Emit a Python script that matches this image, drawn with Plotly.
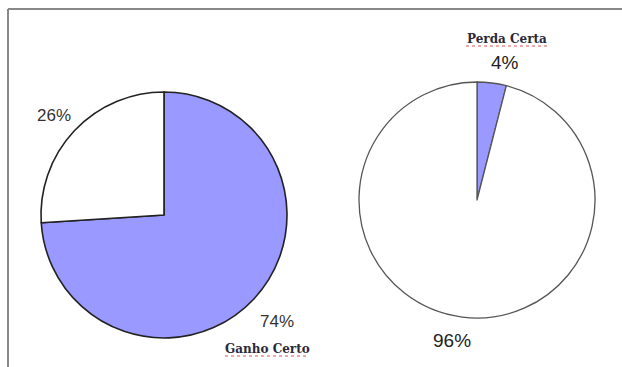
import plotly.graph_objects as go

W, H = 622, 367

left_labels = ["Ganho Certo", "Outro"]
left_values = [74, 26]
right_labels = ["Perda Certa", "Outro"]
right_values = [4, 96]
pie_colors = ["#9999FF", "#FFFFFF"]


def dom_x(cx, r):
    return [(cx - r) / W, (cx + r) / W]


def dom_y(cy, r):
    return [1 - (cy + r) / H, 1 - (cy - r) / H]


fig = go.Figure()
fig.add_trace(go.Pie(
    labels=left_labels, values=left_values, sort=False, direction="clockwise",
    rotation=0, textinfo="none", hoverinfo="label+percent",
    marker=dict(colors=pie_colors, line=dict(color="#222222", width=1.6)),
    domain=dict(x=dom_x(164, 123), y=dom_y(215, 123)), showlegend=False,
))
fig.add_trace(go.Pie(
    labels=right_labels, values=right_values, sort=False, direction="clockwise",
    rotation=0, textinfo="none", hoverinfo="label+percent",
    marker=dict(colors=pie_colors, line=dict(color="#555555", width=1.3)),
    domain=dict(x=dom_x(477, 118), y=dom_y(200, 118)), showlegend=False,
))

SANS = "Liberation Sans, Arial, sans-serif"
SERIF = "DejaVu Serif, serif"


def ann(x, y, text, size, family=SANS, color="#333333"):
    fig.add_annotation(x=x / W, y=1 - y / H, xref="paper", yref="paper",
                       text=text, showarrow=False, xanchor="center", yanchor="middle",
                       font=dict(size=size, family=family, color=color))


ann(54, 115, f"{left_values[1]}%", 17)
ann(277, 321, f"{left_values[0]}%", 17)
ann(267, 349, f"<b>{left_labels[0]}</b>", 12, family=SERIF, color="#2a2a3a")
ann(507, 39, f"<b>{right_labels[0]}</b>", 12, family=SERIF, color="#2a2a3a")
ann(505, 62, f"{right_values[0]}%", 19, color="#222222")
ann(452, 340, f"{right_values[1]}%", 19, color="#222222")

# frame (top and left borders)
fig.add_shape(type="line", xref="paper", yref="paper", x0=8 / W, x1=1, y0=1 - 9 / H, y1=1 - 9 / H,
              line=dict(color="#888888", width=2))
fig.add_shape(type="line", xref="paper", yref="paper", x0=8 / W, x1=8 / W, y0=0, y1=1 - 9 / H,
              line=dict(color="#888888", width=2))
# spell-check squiggles
fig.add_shape(type="line", xref="paper", yref="paper", x0=225 / W, x1=309 / W,
              y0=1 - 356 / H, y1=1 - 356 / H, line=dict(color="#DD5555", width=1, dash="dot"))
fig.add_shape(type="line", xref="paper", yref="paper", x0=466 / W, x1=548 / W,
              y0=1 - 46 / H, y1=1 - 46 / H, line=dict(color="#DD5555", width=1, dash="dot"))

fig.update_layout(width=W, height=H, margin=dict(l=0, r=0, t=0, b=0),
                  paper_bgcolor="white", plot_bgcolor="white")
fig.write_html("out.html")
